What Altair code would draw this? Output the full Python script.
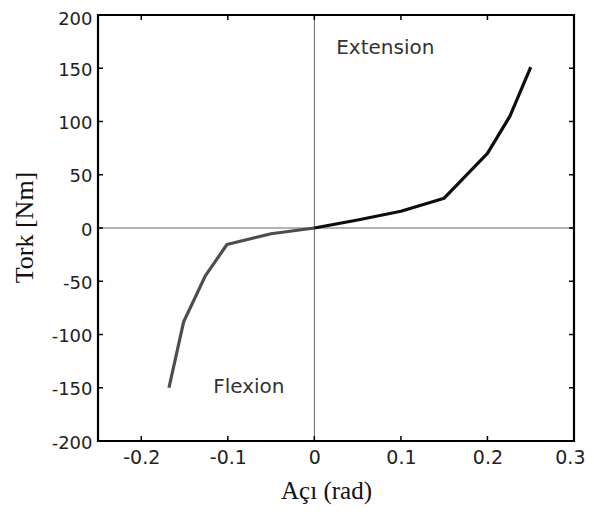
import altair as alt
import pandas as pd

# Data
flex_angle = [-0.168, -0.151, -0.126, -0.101, -0.05, 0.0]
flex_torque = [-150, -88, -45, -15.5, -5.4, 0]
ext_angle = [0.0, 0.05, 0.1, 0.15, 0.2, 0.226, 0.25]
ext_torque = [0, 7.5, 15.7, 28, 70, 105, 151]

x_ticks = [-0.2, -0.1, 0, 0.1, 0.2, 0.3]
y_ticks = [-200, -150, -100, -50, 0, 50, 100, 150, 200]

notes = ["Extension", "Flexion"]
note_x = [0.082, -0.0757]
note_y = [163, -155]

W, H = 476, 426
XD = [-0.25, 0.3]
YD = [-200, 200]

line_df = pd.DataFrame({
    "angle": flex_angle + ext_angle,
    "torque": flex_torque + ext_torque,
    "part": ["flexion"] * len(flex_angle) + ["extension"] * len(ext_angle),
})
xt_df = pd.DataFrame({"v": x_ticks})
yt_df = pd.DataFrame({"v": y_ticks})
zero_df = pd.DataFrame({"v": [0]})
note_df = pd.DataFrame({"label": notes, "x": note_x, "y": note_y})

xs = alt.Scale(domain=XD, nice=False, zero=False)
ys = alt.Scale(domain=YD, nice=False, zero=False)

x_axis = alt.Axis(title="Açı (rad)", values=x_ticks,
                  labelExpr="(datum.value < 0 ? '-' : '') + format(abs(datum.value), '.1~f')",
                  ticks=False, tickSize=0, domain=False, grid=False,
                  labelFont="DejaVu Sans", labelFontSize=19, labelColor="#222",
                  labelPadding=7, labelFlush=True, labelFlushOffset=11,
                  titleFont="Liberation Serif", titleFontSize=25,
                  titleFontWeight="normal", titleColor="#111",
                  titleX=228, titleY=57, titleBaseline="alphabetic",
                  titleAlign="center")
y_axis = alt.Axis(title="Tork [Nm]", values=y_ticks,
                  labelExpr="(datum.value < 0 ? '-' : '') + format(abs(datum.value), 'd')",
                  ticks=False, tickSize=0, domain=False, grid=False,
                  labelFont="DejaVu Sans", labelFontSize=18, labelColor="#222",
                  labelPadding=6, labelFlush=False,
                  labelOffset={"condition": {"test": "datum.value == 200", "value": 4},
                               "value": 2},
                  titleFont="Liberation Serif", titleFontSize=26,
                  titleFontWeight="normal", titleColor="#111",
                  titleAngle=270, titleX=-66, titleY=212,
                  titleBaseline="alphabetic", titleAlign="center")


def X(field):
    return alt.X(field, scale=xs, axis=x_axis, title="Açı (rad)")


def Y(field):
    return alt.Y(field, scale=ys, axis=y_axis, title="Tork [Nm]")


line = alt.Chart(line_df).mark_line(strokeWidth=3.2, strokeJoin="round").encode(
    x=X("angle:Q"),
    y=Y("torque:Q"),
    color=alt.Color("part:N", legend=None,
                    scale=alt.Scale(domain=["flexion", "extension"],
                                    range=["#4d4d4d", "#0d0d0d"])),
)

zero_v = alt.Chart(zero_df).mark_rule(color="#666", strokeWidth=1).encode(x=X("v:Q"))
zero_h = alt.Chart(zero_df).mark_rule(color="#666", strokeWidth=1).encode(y=Y("v:Q"))

tick_style = dict(color="#000", strokeWidth=1.5)
bottom_ticks = alt.Chart(xt_df).mark_rule(**tick_style).encode(
    x=X("v:Q"), y=alt.value(H), y2=alt.value(H - 5))
top_ticks = alt.Chart(xt_df).mark_rule(**tick_style).encode(
    x=X("v:Q"), y=alt.value(0), y2=alt.value(5))
left_ticks = alt.Chart(yt_df).mark_rule(**tick_style).encode(
    y=Y("v:Q"), x=alt.value(0), x2=alt.value(5))
right_ticks = alt.Chart(yt_df).mark_rule(**tick_style).encode(
    y=Y("v:Q"), x=alt.value(W), x2=alt.value(W - 5))

text = alt.Chart(note_df).mark_text(font="DejaVu Sans", fontSize=20, color="#333",
                                    align="center", baseline="alphabetic").encode(
    x=X("x:Q"), y=Y("y:Q"), text="label:N")

chart = alt.layer(zero_v, zero_h, bottom_ticks, top_ticks, left_ticks, right_ticks,
                  line, text).properties(
    width=W, height=H,
    autosize=alt.AutoSizeParams(type="none"),
    padding={"left": 90, "top": 7, "right": 12, "bottom": 65},
).configure(background="white").configure_view(stroke="#000", strokeWidth=2.2)

chart.save("out.html", embed_options={"renderer": "svg", "actions": False})
